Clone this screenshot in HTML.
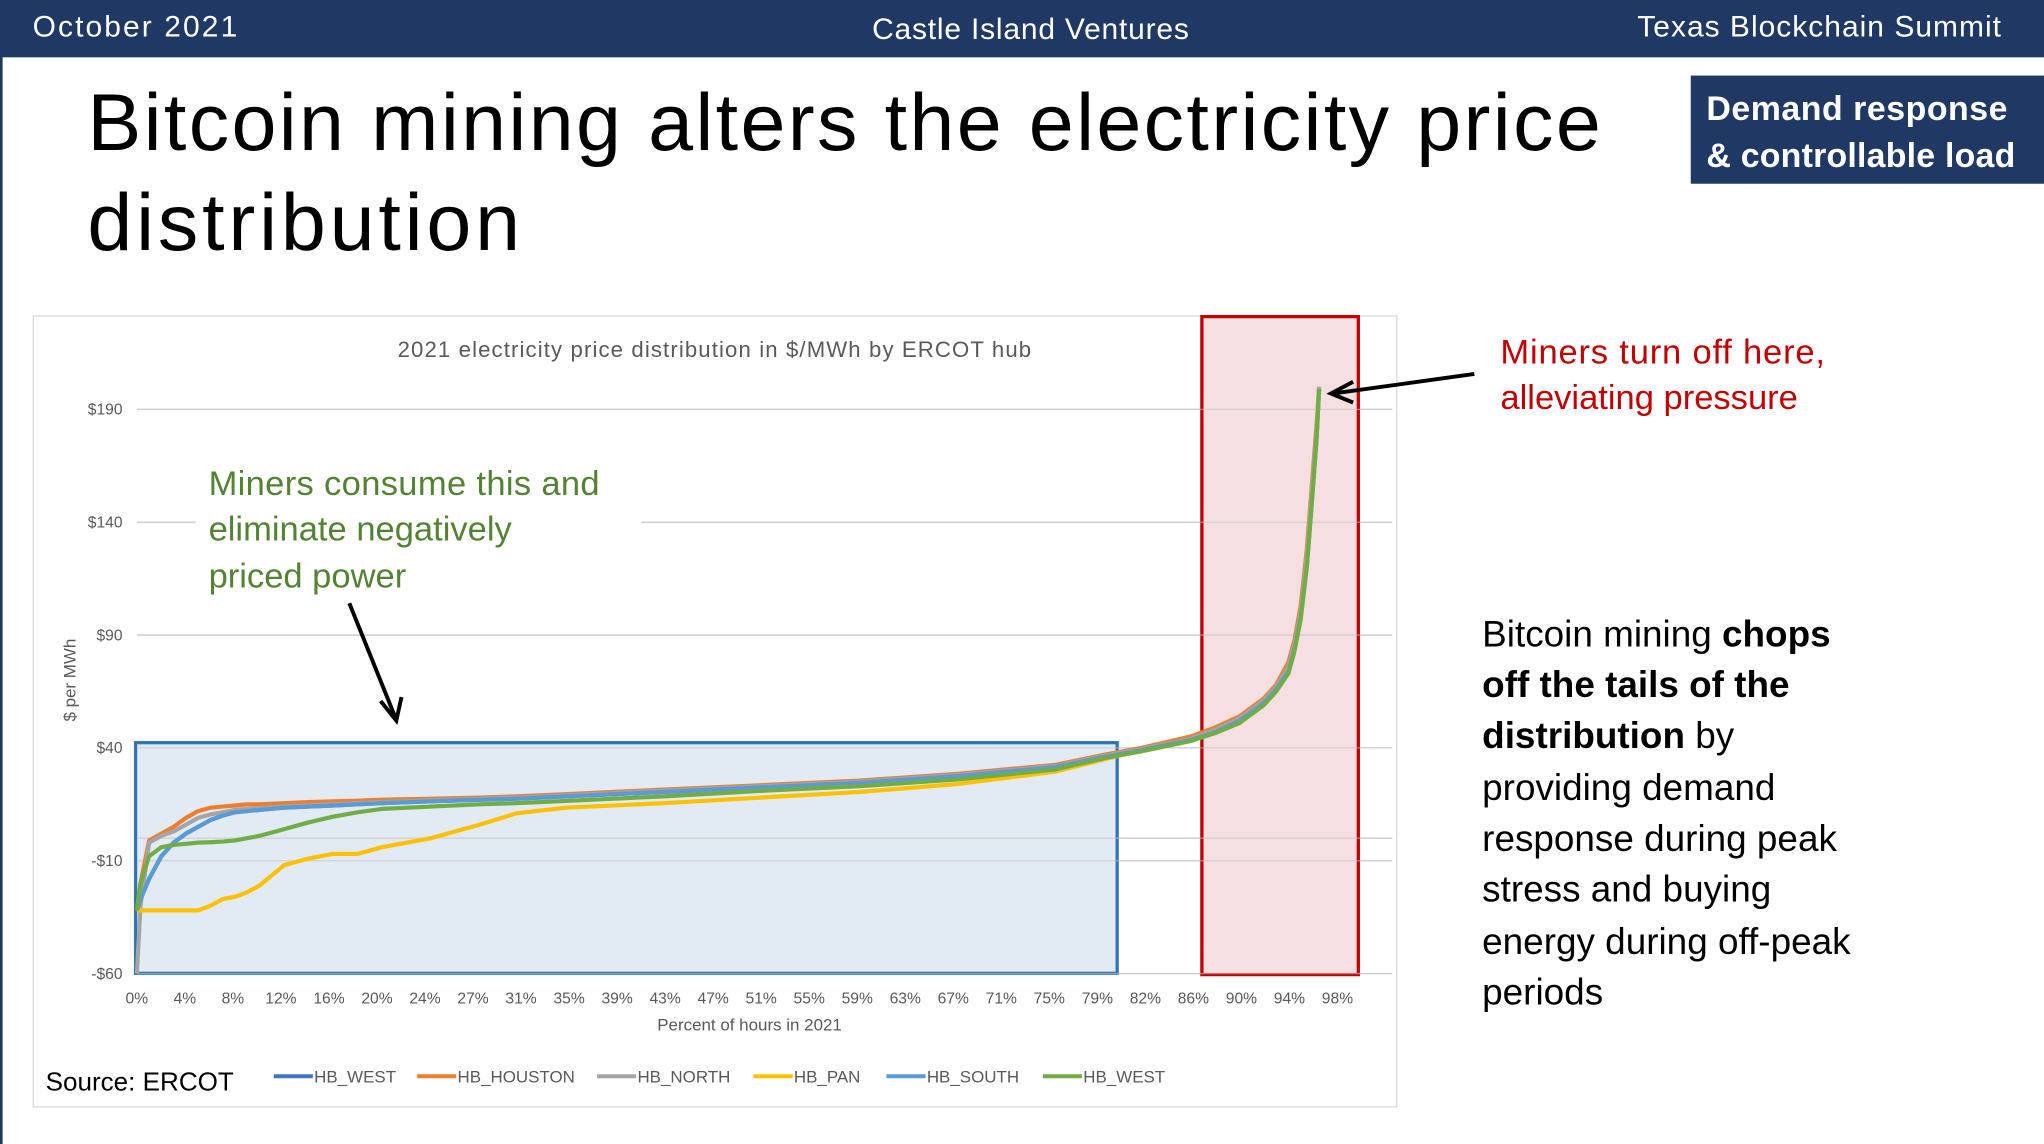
<!DOCTYPE html>
<html><head><meta charset="utf-8"><style>
html,body{margin:0;padding:0;background:#fff;}
svg{display:block;font-family:"Liberation Sans",sans-serif;}
</style></head><body>
<svg id="root" width="2044" height="1144" viewBox="0 0 1568 878" preserveAspectRatio="none">
<rect x="0" y="0" width="1568" height="878" fill="#fff"/>
<rect x="0" y="0" width="2" height="878" fill="#1f3864"/>
<rect x="0" y="0" width="1568" height="44" fill="#1f3864"/>
<text x="25" y="28" font-size="23" fill="#fff" textLength="157">October 2021</text>
<text x="669" y="30" font-size="23" fill="#fff" textLength="243">Castle Island Ventures</text>
<text x="1256" y="28" font-size="23" fill="#fff" textLength="279">Texas Blockchain Summit</text>

<text x="67" y="115" font-size="62" fill="#000" textLength="1161">Bitcoin mining alters the electricity price</text>
<text x="67" y="192" font-size="62" fill="#000" textLength="332">distribution</text>

<rect x="1297" y="58" width="271" height="83" fill="#1f3864"/>
<text x="1309" y="92" font-size="26" font-weight="bold" fill="#fff" textLength="231">Demand response</text>
<text x="1309" y="128" font-size="26" font-weight="bold" fill="#fff" textLength="237">&amp; controllable load</text>

<rect x="25.5" y="242.5" width="1046" height="607" fill="#fff" stroke="#d9d9d9" stroke-width="1"/>
<text x="548" y="274" font-size="17" fill="#595959" text-anchor="middle" textLength="486">2021 electricity price distribution in $/MWh by ERCOT hub</text>

<g id="grid"></g>
<rect x="922" y="243" width="120" height="505" fill="#f5dfe1" stroke="#c00000" stroke-width="2.5"/>
<rect x="104" y="570" width="753" height="177" fill="#e2eaf3" stroke="#2e75b6" stroke-width="2.5"/>
<g id="gridover"></g>
<g id="series"></g>
<g id="xticks"></g>
<g id="yticks"></g>

<text transform="translate(58,522) rotate(-90)" font-size="13" fill="#595959" text-anchor="middle">$ per MWh</text>
<text x="575" y="791" font-size="13" fill="#595959" text-anchor="middle">Percent of hours in 2021</text>

<rect x="150" y="350" width="342" height="110" fill="#fff"/>
<text font-size="26.5" fill="#548235">
<tspan x="160" y="380" textLength="300">Miners consume this and</tspan>
<tspan x="160" y="415">eliminate negatively</tspan>
<tspan x="160" y="451">priced power</tspan></text>
<g>
<line x1="268" y1="463" x2="303" y2="550" stroke="#000" stroke-width="3"/>
<polyline points="292,538 304,553 308,535" fill="none" stroke="#000" stroke-width="3"/>
</g>

<text font-size="26.5" fill="#c00000">
<tspan x="1151" y="279" textLength="249">Miners turn off here,</tspan>
<tspan x="1151" y="314">alleviating pressure</tspan></text>
<g>
<line x1="1131" y1="287" x2="1023" y2="302" stroke="#000" stroke-width="3"/>
<polyline points="1038,293 1021,302 1038,309" fill="none" stroke="#000" stroke-width="3"/>
</g>

<text font-size="28.3" fill="#000">
<tspan x="1137" y="496">Bitcoin mining <tspan font-weight="bold">chops</tspan></tspan>
<tspan x="1137" y="535" font-weight="bold">off the tails of the</tspan>
<tspan x="1137" y="574"><tspan font-weight="bold">distribution</tspan> by</tspan>
<tspan x="1137" y="614">providing demand</tspan>
<tspan x="1137" y="653">response during peak</tspan>
<tspan x="1137" y="692">stress and buying</tspan>
<tspan x="1137" y="732">energy during off-peak</tspan>
<tspan x="1137" y="771">periods</tspan></text>

<text x="35" y="837" font-size="20" fill="#000">Source: ERCOT</text>
<g id="legend"></g>
</svg>
<script>
const pct = [0,0.3,1,2,3,4,5,6,7,8,9,10,12,14,16,18,20,24,28,31,35,43,51,59,67,75,79,82,86,88,90,92,93,94,94.5,95,95.5,96,96.3,96.5];
const seriesNames = ["HB_WEST","HB_HOUSTON","HB_NORTH","HB_PAN","HB_SOUTH","HB_WEST"];
const seriesColors = ["#4472c4","#ed7d31","#a5a5a5","#ffc000","#5b9bd5","#70ad47"];
const west = [-32,-27,-18,-8,-2,2,5,8,10,11.5,12,12.5,13.5,14,14.5,15,15.5,16.3,17,17.5,18.5,20.5,22.5,24.5,27.5,31.5,36,39,43.5,47,52,60,66,74,84,98,121,156,178,199];
const houston = [-32,-20,-1,2,5,9,12,13.5,14,14.5,15,15,15.5,16,16.3,16.6,17,17.5,18,18.5,19.5,21.5,23.5,25.5,28.5,32.5,37,40,45,49,54,62,68,78,88,103,128,163,183,200];
const north = [-60,-30,-2,1,3,6,9,10.5,11.5,12.5,13,13.3,14,14.5,15,15.5,16,16.8,17.5,18,19,21,23,25,28,32,36.5,39.5,44,48,53,61,67,76,86,100,125,160,180,200];
const pan = [-32,-32,-32,-32,-32,-32,-32,-30,-27,-26,-24,-21,-12,-9,-7,-7,-4,0,6,11,13.5,15.5,18,20.5,24,29.5,35,39,43.5,47,52,60,66,74,84,98,122,157,178,199];
const south = [-32,-27,-18,-8,-2,2,5,8,10,11.5,12,12.5,13.5,14,14.5,15,15.5,16.3,17,17.5,18.5,20.5,22.5,24.5,27.5,31.5,36,39,43.5,47,52,60,66,74,84,98,121,156,178,199];
const west2 = [-32,-20,-8,-4,-3,-2.5,-2,-1.8,-1.5,-1,0,1,4,7,9.5,11.5,13,14,15,15.5,16.5,18.5,21,23,26,30.5,35.5,38.5,43,46.5,51,59,65,73,83,97,120,155,177,199];
const yTicks = [190,140,90,40,-10,-60];
const yTickLabels = ["$190","$140","$90","$40","-$10","-$60"];
const xTickLabels = ["0%","4%","8%","12%","16%","20%","24%","27%","31%","35%","39%","43%","47%","51%","55%","59%","63%","67%","71%","75%","79%","82%","86%","90%","94%","98%"];

const NS = "http://www.w3.org/2000/svg";
function xScale(p){ return 105 + p * (1026 - 105) / 98; }
function yScale(v){ return 574 - (v - 40) * 86.6 / 50; }
function mk(tag, attrs, parent){ const e = document.createElementNS(NS, tag); for (const k in attrs) e.setAttribute(k, attrs[k]); parent.appendChild(e); return e; }

const grid = document.getElementById('grid');
const gridover = document.getElementById('gridover');
yTicks.concat([0]).forEach(v => {
  const g1 = mk('line', {x1:105, x2:1068, y1:yScale(v), y2:yScale(v), stroke:'#d9d9d9', 'stroke-width':1}, grid);
  
  
  const g2 = mk('line', {x1:105, x2:1068, y1:yScale(v), y2:yScale(v), stroke:'#c9c0c4', 'stroke-width':1, opacity:0.6}, gridover);
  
  
});

const yt = document.getElementById('yticks');
yTicks.forEach((v, i) => {
  const t = mk('text', {x:94, y:yScale(v)+4, 'font-size':12, fill:'#595959', 'text-anchor':'end'}, yt);
  t.textContent = yTickLabels[i];
  
  
});
const xt = document.getElementById('xticks');
xTickLabels.forEach((l, i) => {
  const t = mk('text', {x:xScale(i * 98 / 25), y:770, 'font-size':12, fill:'#595959', 'text-anchor':'middle'}, xt);
  t.textContent = l;
  
  
});

const allSeries = [west, houston, north, pan, south, west2];
const sg = document.getElementById('series');
allSeries.forEach((vals, si) => {
  const pts = vals.map((v, i) => xScale(pct[i]).toFixed(1) + ',' + yScale(v).toFixed(1)).join(' ');
  const pl = mk('polyline', {points:pts, fill:'none', stroke:seriesColors[si], 'stroke-width':3.2, 'stroke-linejoin':'round'}, sg);
  
  
});

const lg = document.getElementById('legend');
const legendX = [210, 320, 458, 578, 680, 800];
seriesNames.forEach((n, i) => {
  const ln = mk('line', {x1:legendX[i], x2:legendX[i]+30, y1:826, y2:826, stroke:seriesColors[i], 'stroke-width':3}, lg);
  
  
  const t = mk('text', {x:legendX[i]+31, y:831, 'font-size':13, fill:'#595959'}, lg);
  t.textContent = n;
  
  
});
</script>
</body></html>
